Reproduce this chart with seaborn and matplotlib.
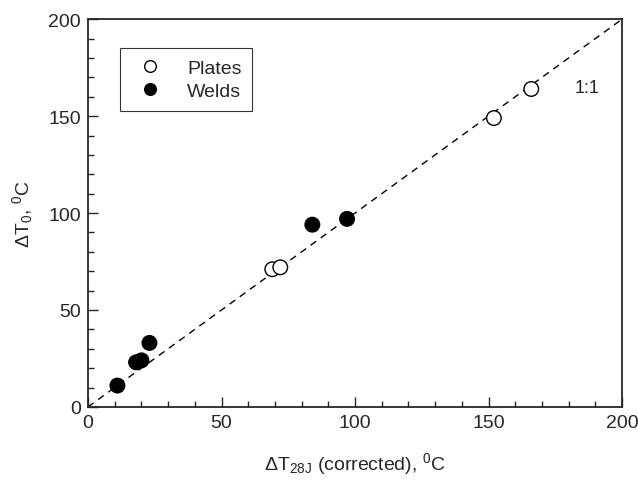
import pandas as pd
import seaborn as sns
import matplotlib.pyplot as plt
from matplotlib.ticker import MultipleLocator

# values
plates_x = [69, 72, 152, 166]
plates_y = [71, 72, 149, 164]
welds_x = [11, 18, 20, 23, 84, 97]
welds_y = [11, 23, 24, 33, 94, 97]

df = pd.concat([
    pd.DataFrame({"x": plates_x, "y": plates_y, "kind": "Plates"}),
    pd.DataFrame({"x": welds_x, "y": welds_y, "kind": "Welds"}),
])

sns.set_style("ticks")
plt.rcParams["font.family"] = ["Liberation Sans", "DejaVu Sans"]
plt.rcParams["mathtext.fontset"] = "custom"
plt.rcParams["mathtext.rm"] = "Liberation Sans"
plt.rcParams["mathtext.it"] = "Liberation Sans"

fig = plt.figure(figsize=(6.38, 4.81), dpi=100)
ax = fig.add_axes([0.138, 0.152, 0.837, 0.806])

# 1:1 line
ax.plot([0, 200], [0, 200], color="black", ls=(0, (5, 4)), lw=1, zorder=1)

sns.scatterplot(data=df, x="x", y="y", hue="kind", style="kind",
                palette={"Plates": "white", "Welds": "black"},
                markers={"Plates": "o", "Welds": "o"},
                edgecolor="black", linewidth=1, s=110, ax=ax, zorder=2)

ax.text(187, 165, "1:1", fontsize=13, ha="center", va="center")

ax.set_xlim(0, 200)
ax.set_ylim(0, 200)
ax.xaxis.set_major_locator(MultipleLocator(50))
ax.yaxis.set_major_locator(MultipleLocator(50))
ax.xaxis.set_minor_locator(MultipleLocator(10))
ax.yaxis.set_minor_locator(MultipleLocator(10))
ax.tick_params(which="both", direction="in", width=1, labelsize=14, pad=5)
ax.tick_params(which="major", length=7)
ax.tick_params(which="minor", length=4)
for sp in ax.spines.values():
    sp.set_linewidth(1.3)

ax.set_xlabel(r"ΔT$_{\mathrm{28J}}$ (corrected), $^{\mathrm{0}}$C", fontsize=14, labelpad=14)
ax.set_ylabel(r"ΔT$_{\mathrm{0}}$, $^{\mathrm{0}}$C", fontsize=14, labelpad=10)

leg = ax.legend(title=None, loc="upper left", bbox_to_anchor=(0.06, 0.925),
                fontsize=14, frameon=True, fancybox=False, edgecolor="black",
                handletextpad=0.9, borderpad=0.55, labelspacing=0.3,
                borderaxespad=0, markerscale=0.8)
leg.get_frame().set_linewidth(0.8)

plt.savefig("out.png", dpi=100)
